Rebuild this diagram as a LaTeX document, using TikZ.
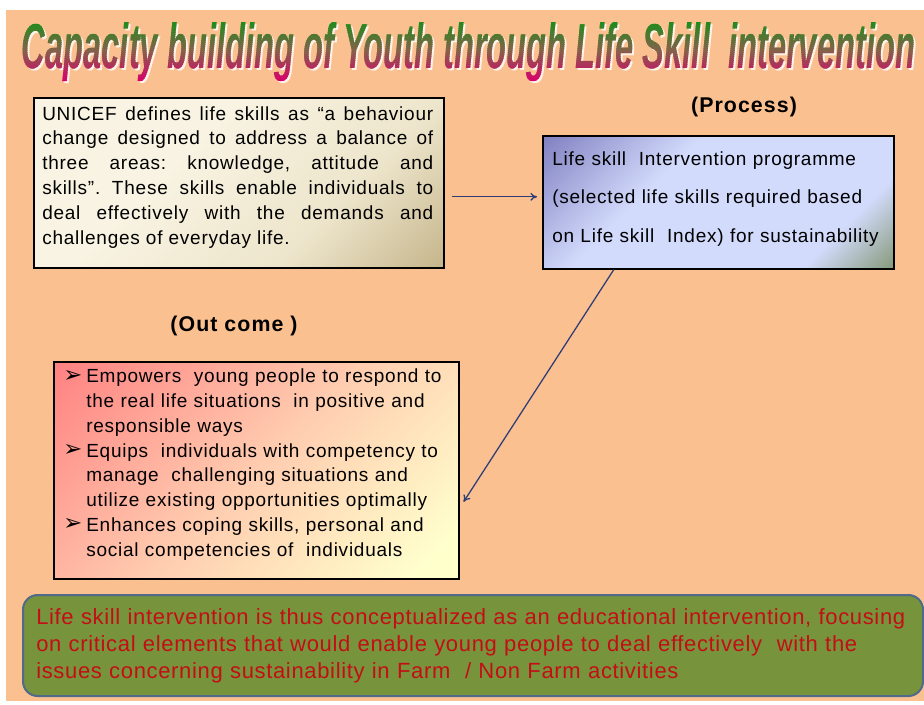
\documentclass[tikz,border=0pt]{standalone}
\usepackage{fontspec}
\usepackage{graphicx}
\setmainfont{Liberation Sans}
\newfontfamily\bodyfont[LetterSpace=4]{Liberation Sans}
\newfontfamily\greenfont[LetterSpace=3]{Liberation Sans}
\newfontfamily\labelfont[LetterSpace=5]{Liberation Sans}
\newfontfamily\symfont{DejaVu Sans}
\usetikzlibrary{arrows.meta}
\definecolor{peach}{HTML}{FAC090}
\definecolor{olivebox}{HTML}{77933C}
\definecolor{oliveborder}{HTML}{4F6A8A}
\definecolor{redtext}{HTML}{C40E16}
\definecolor{arrowblue}{HTML}{2E3D75}
\definecolor{ttop}{HTML}{1A8E1A}
\definecolor{tmid}{HTML}{86604A}
\definecolor{tbot}{HTML}{D8006A}
\definecolor{pdark}{HTML}{8282C2}
\definecolor{plight}{HTML}{D3DBFC}
\definecolor{pgreen}{HTML}{889C7E}
\definecolor{ccream}{HTML}{F8F3E2}
\definecolor{cmid}{HTML}{EDE5CB}
\definecolor{ctan}{HTML}{C6B68C}
\definecolor{rred}{HTML}{FF8282}
\definecolor{rmid}{HTML}{FFCDB0}
\definecolor{ryel}{HTML}{FFFFCC}
\pgfdeclarehorizontalshading{procshade}{100bp}{color(0bp)=(pdark); color(15bp)=(pdark); color(38bp)=(plight); color(72bp)=(plight); color(85bp)=(pgreen); color(100bp)=(pgreen)}
\pgfdeclarehorizontalshading{defshade}{100bp}{color(0bp)=(ccream); color(15bp)=(ccream); color(40bp)=(ccream); color(65bp)=(cmid); color(85bp)=(ctan); color(100bp)=(ctan)}
\pgfdeclarehorizontalshading{outshade}{100bp}{color(0bp)=(rred); color(15bp)=(rred); color(50bp)=(rmid); color(80bp)=(ryel); color(100bp)=(ryel)}
\newcommand{\titletext}{\resizebox{669.75pt}{34.5pt}{\bfseries\itshape Capacity building of Youth through Life Skill\ \ intervention}}
\newcommand{\bmark}{\makebox[17.25pt][l]{\raisebox{0.5pt}{\symfont\fontsize{17}{17}\selectfont ➢}}}
\newcommand{\bitem}[1]{\noindent\hangindent=17.25pt\hangafter=1\bmark#1\par}
\tikzset{
  framebox/.style={draw=black, line width=1.2pt, rectangle, inner sep=0pt, anchor=north west},
  bodytext/.style={inner sep=0pt, anchor=base west, font=\bodyfont\fontsize{14.25}{18.6}\selectfont},
  arr/.style={draw=arrowblue, line width=0.95pt, -{To[length=5pt,width=6pt]}},
  heading/.style={inner sep=0pt, anchor=base, font=\labelfont\bfseries\fontsize{16}{19}\selectfont}
}
\begin{document}
\frenchspacing
\begin{tikzpicture}[x=0.75pt,y=-0.75pt]
\useasboundingbox (0,0) rectangle (924,704);
\fill[white] (0,0) rectangle (924,704);
\fill[peach] (6,10) rectangle (924,701);
% title: shadow, then gradient built from horizontal strips
\node[inner sep=0pt, anchor=base, text=white!80!peach] (titleshadow) at (470.5,70) {\titletext};
\foreach \i in {0,...,30} {
  \pgfmathsetmacro{\ya}{20+2*\i}
  \pgfmathsetmacro{\yb}{\ya+2.6}
  \pgfmathsetmacro{\f}{\i/30}
  \pgfmathsetmacro{\pa}{ifthenelse(\f<0.5, 100-200*\f, 0)}
  \pgfmathsetmacro{\pb}{ifthenelse(\f<0.5, 0, 200*\f-100)}
  \colorlet{tcur}{tmid}
  \ifdim\f pt<0.5pt \colorlet{tcur}{ttop!\pa!tmid}\else\colorlet{tcur}{tbot!\pb!tmid}\fi
  \begin{scope}
    \clip (10,\ya) rectangle (924,\yb);
    \node[inner sep=0pt, anchor=base, text=tcur] (title\i) at (468.5,68) {\titletext};
  \end{scope}
}
% boxes
\node[framebox, minimum width=307.5pt, minimum height=127.5pt, shading=defshade, shading angle=-45] (box1) at (33,97) {};
\node[bodytext, text width=293.25pt, align=justify] (t1) at (42,120) {UNICEF defines life skills as “a behaviour\linebreak change designed to address a balance of\linebreak three areas: knowledge, attitude and\linebreak skills”. These skills enable individuals to\linebreak deal effectively with the demands and\linebreak challenges of everyday life.};
\node[framebox, minimum width=263.25pt, minimum height=99.75pt, shading=procshade, shading angle=-45] (box2) at (542,135) {};
\node[bodytext, font=\bodyfont\fontsize{14.25}{28.9}\selectfont, text width=250pt, align=left] (t2) at (552,165) {Life skill\ \ Intervention programme\\(selected life skills required based\\on Life skill\ \ Index) for sustainability};
\node[heading] (process) at (744,112) {(Process)};
\node[heading] (outcome) at (234,331) {(Out come )};
\node[framebox, minimum width=303.75pt, minimum height=162.75pt, shading=outshade, shading angle=-45] (box3) at (53,361) {};
\node[bodytext, text width=295pt, align=left] (t3) at (63,382.7) {\bitem{Empowers\ \ young people to respond to\newline the real life situations\ \ in positive and\newline responsible ways}\bitem{Equips\ \ individuals with competency to\newline manage\ \ challenging situations and\newline utilize existing opportunities optimally}\bitem{Enhances coping skills, personal and\newline social competencies of\ \ individuals}};
\node[draw=oliveborder, line width=1.5pt, fill=olivebox, rounded corners=11pt, inner sep=0pt, anchor=north west, minimum width=675pt, minimum height=75.75pt] (green) at (22,594) {};
\node[inner sep=0pt, anchor=base west, text width=665pt, align=left, text=redtext, font=\greenfont\fontsize{16.5}{20.25}\selectfont] (t4) at (36,624) {Life skill intervention is thus conceptualized as an educational intervention, focusing\\on critical elements that would enable young people to deal effectively\ \ with the\\issues concerning sustainability in Farm\ \ / Non Farm activities};
% connectors
\draw[arr] ([shift={(7,14)}]box1.east) -- ([shift={(-5,-5.5)}]box2.west);
\draw[arr] ([shift={(-104.5,0)}]box2.south) -- ([shift={(4,31.5)}]box3.east);
\end{tikzpicture}
\end{document}
